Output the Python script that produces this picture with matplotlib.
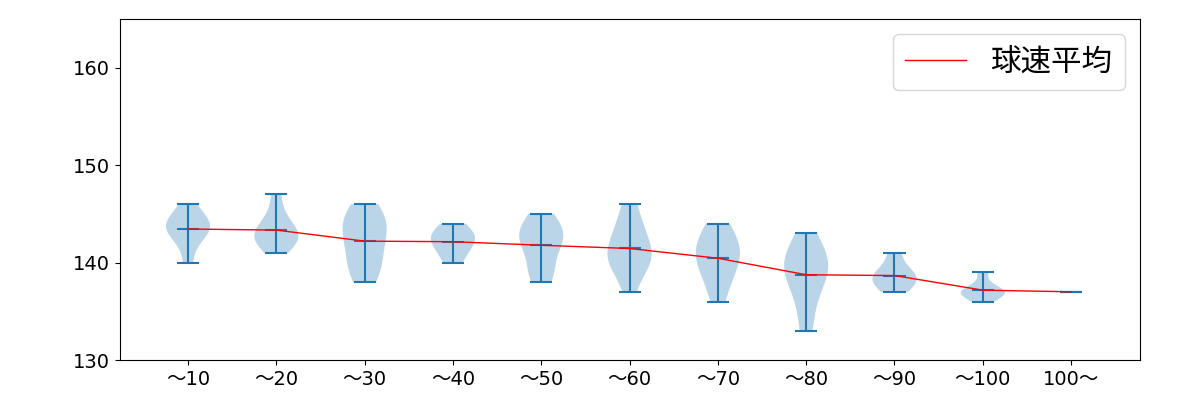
import matplotlib
matplotlib.use("Agg")
import matplotlib.pyplot as plt
import numpy as np

plt.rcParams['font.family'] = ['DejaVu Sans', 'Noto Sans CJK JP']

labels = ["～10", "～20", "～30", "～40", "～50", "～60", "～70", "～80", "～90", "～100", "100～"]
speeds = [
    [140, 142, 143, 143, 144, 144, 144, 145, 146],
    [141, 142, 142, 143, 143, 143, 144, 145, 147],
    [138, 139, 140, 141, 142, 143, 144, 144, 145, 146],
    [140, 141, 142, 142, 143, 143, 144],
    [138, 139, 140, 142, 142, 143, 143, 144, 145],
    [137, 140, 140, 140, 141, 142, 143, 144, 146],
    [136, 138, 139, 140, 141, 141, 142, 143, 144],
    [133, 136, 138, 139, 140, 140, 141, 143],
    [137, 138, 138, 139, 139, 141],
    [136, 137, 137, 137, 137, 139],
    [137],
]
means = [np.mean(s) for s in speeds]

fig = plt.figure(figsize=(12, 4), dpi=100)
ax = fig.add_axes([0.1, 0.1, 0.85, 0.8525])
pos = np.arange(1, len(labels) + 1)
ax.violinplot(speeds, positions=pos, showmeans=True)
ax.plot(pos, means, color='red', lw=1, label='球速平均')
ax.set_xticks(pos)
ax.set_xticklabels(labels, fontsize=14)
ax.tick_params(axis='y', labelsize=14)
ax.set_yticks([130, 140, 150, 160])
ax.set_ylim(130, 165)
ax.set_xlim(0.23, 11.78)
ax.legend(loc='upper right', prop={'family': ['Noto Sans CJK JP'], 'size': 22})
fig.savefig("out.png")
